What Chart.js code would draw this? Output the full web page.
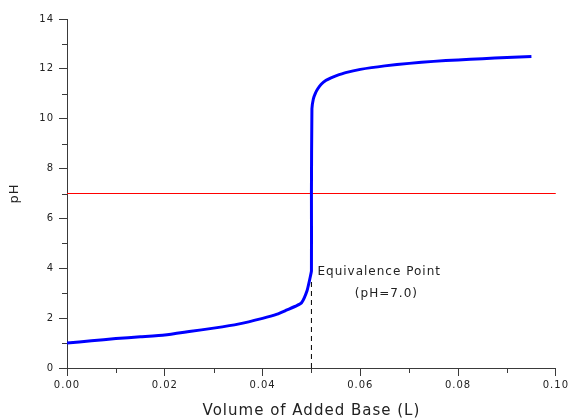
<!DOCTYPE html>
<html>
<head>
<meta charset="utf-8">
<script src="https://cdn.jsdelivr.net/npm/chart.js@4/dist/chart.umd.min.js"></script>
<style>
  html, body { margin: 0; padding: 0; background: #fff; }
  #wrap { width: 570px; height: 419px; }
</style>
</head>
<body>
<div id="wrap"><canvas id="titrationChart" width="570" height="419"></canvas></div>
<script>
// Titration curve
var baseVolume = [0, 0.005, 0.01, 0.015, 0.02, 0.025, 0.03, 0.035, 0.04, 0.043, 0.045, 0.047,
    0.048, 0.0491, 0.0497, 0.05, 0.05, 0.0501, 0.0504, 0.0508, 0.0513, 0.052, 0.053, 0.054,
    0.055, 0.057, 0.06, 0.065, 0.07, 0.075, 0.08, 0.085, 0.09, 0.095];
var phValues = [1.00, 1.09, 1.18, 1.25, 1.32, 1.46, 1.60, 1.76, 1.99, 2.16, 2.33, 2.50,
    2.62, 3.10, 3.60, 3.90, 7.00, 10.40, 10.80, 11.02, 11.20, 11.38, 11.54, 11.64,
    11.72, 11.85, 11.98, 12.12, 12.22, 12.30, 12.36, 12.41, 12.46, 12.50];

// Reference line at pH 7 and the equivalence marker
var neutralVolume = [0, 0.1];
var neutralPh = [7, 7];
var equivVolume = [0.05, 0.05];
var equivPh = [0, 3.5];

var xTicks = [0, 0.02, 0.04, 0.06, 0.08, 0.1];
var xMinorTicks = [0.01, 0.03, 0.05, 0.07, 0.09];
var yMinorTicks = [1, 3, 5, 7, 9, 11, 13];

function toPoints(xs, ys) {
    return xs.map(function (x, i) { return { x: x, y: ys[i] }; });
}

var axisColor = "#3a3a3a";
var textColor = "#222";

// Short minor ticks, the annotation text and letter spacing
var extrasPlugin = {
    id: "extras",
    beforeDraw: function (chart) {
        chart.ctx.letterSpacing = "1px";
    },
    afterDraw: function (chart) {
        var ctx = chart.ctx;
        var xs = chart.scales.x;
        var ys = chart.scales.y;
        ctx.save();
        ctx.strokeStyle = axisColor;
        ctx.lineWidth = 1;
        ctx.beginPath();
        yMinorTicks.forEach(function (v) {
            var py = Math.round(ys.getPixelForValue(v)) + 0.5;
            ctx.moveTo(xs.left - 5, py);
            ctx.lineTo(xs.left, py);
        });
        xMinorTicks.forEach(function (v) {
            var px = Math.round(xs.getPixelForValue(v)) + 0.5;
            ctx.moveTo(px, ys.bottom);
            ctx.lineTo(px, ys.bottom + 5);
        });
        ctx.stroke();

        ctx.fillStyle = textColor;
        ctx.font = "12px 'DejaVu Sans'";
        ctx.letterSpacing = "1px";
        ctx.textBaseline = "middle";
        var ex = xs.getPixelForValue(0.05);
        var ey = ys.getPixelForValue(3.9);
        ctx.textAlign = "left";
        ctx.fillText("Equivalence Point", ex + 6, ey + 1);
        ctx.textAlign = "center";
        ctx.fillText("(pH=7.0)", ex + 75, ey + 23);
        ctx.restore();
    }
};

document.addEventListener("DOMContentLoaded", function () {
    var ctx = document.getElementById("titrationChart").getContext("2d");

    window.titrationChart = new Chart(ctx, {
        type: "line",
        data: {
            datasets: [{
                data: toPoints(baseVolume, phValues),
                borderColor: "#0000ff",
                borderWidth: 3,
                pointRadius: 0,
                tension: 0.15,
                order: 1
            }, {
                data: toPoints(neutralVolume, neutralPh),
                borderColor: "#ff0000",
                backgroundColor: "#ff0000",
                borderWidth: 1.2,
                pointRadius: 0,
                order: 2
            }, {
                data: toPoints(equivVolume, equivPh),
                borderColor: "#000",
                borderWidth: 1,
                borderDash: [5, 4],
                pointRadius: 0,
                order: 3
            }]
        },
        options: {
            responsive: false,
            animation: false,
            layout: { padding: { top: 19, right: 12, left: 0, bottom: 0 } },
            plugins: {
                legend: { display: false },
                tooltip: { enabled: false }
            },
            scales: {
                x: {
                    type: "linear",
                    min: 0,
                    max: 0.1,
                    afterBuildTicks: function (scale) {
                        scale.ticks = xTicks.map(function (v) { return { value: v }; });
                    },
                    afterFit: function (scale) { scale.height = 51; },
                    ticks: {
                        color: textColor,
                        font: { family: "'DejaVu Sans'", size: 10 },
                        padding: 3,
                        maxRotation: 0,
                        callback: function (v) { return Number(v).toFixed(2); }
                    },
                    grid: {
                        drawOnChartArea: false,
                        tickLength: 8,
                        color: axisColor
                    },
                    border: { display: true, color: axisColor },
                    title: {
                        display: true,
                        text: "Volume of Added Base (L)",
                        color: textColor,
                        font: { family: "'DejaVu Sans'", size: 15, lineHeight: 1 },
                        padding: { top: 4, bottom: 0 }
                    }
                },
                y: {
                    min: 0,
                    max: 14,
                    ticks: {
                        stepSize: 2,
                        color: textColor,
                        font: { family: "'DejaVu Sans'", size: 10 },
                        padding: 5
                    },
                    afterFit: function (scale) { scale.width = 67; },
                    grid: {
                        drawOnChartArea: false,
                        tickLength: 8,
                        color: axisColor
                    },
                    border: { display: true, color: axisColor },
                    title: {
                        display: true,
                        text: "pH",
                        color: textColor,
                        font: { family: "'DejaVu Sans'", size: 13 },
                        padding: { top: 7, bottom: 0 }
                    }
                }
            }
        },
        plugins: [extrasPlugin]
    });
});
</script>
</body>
</html>
